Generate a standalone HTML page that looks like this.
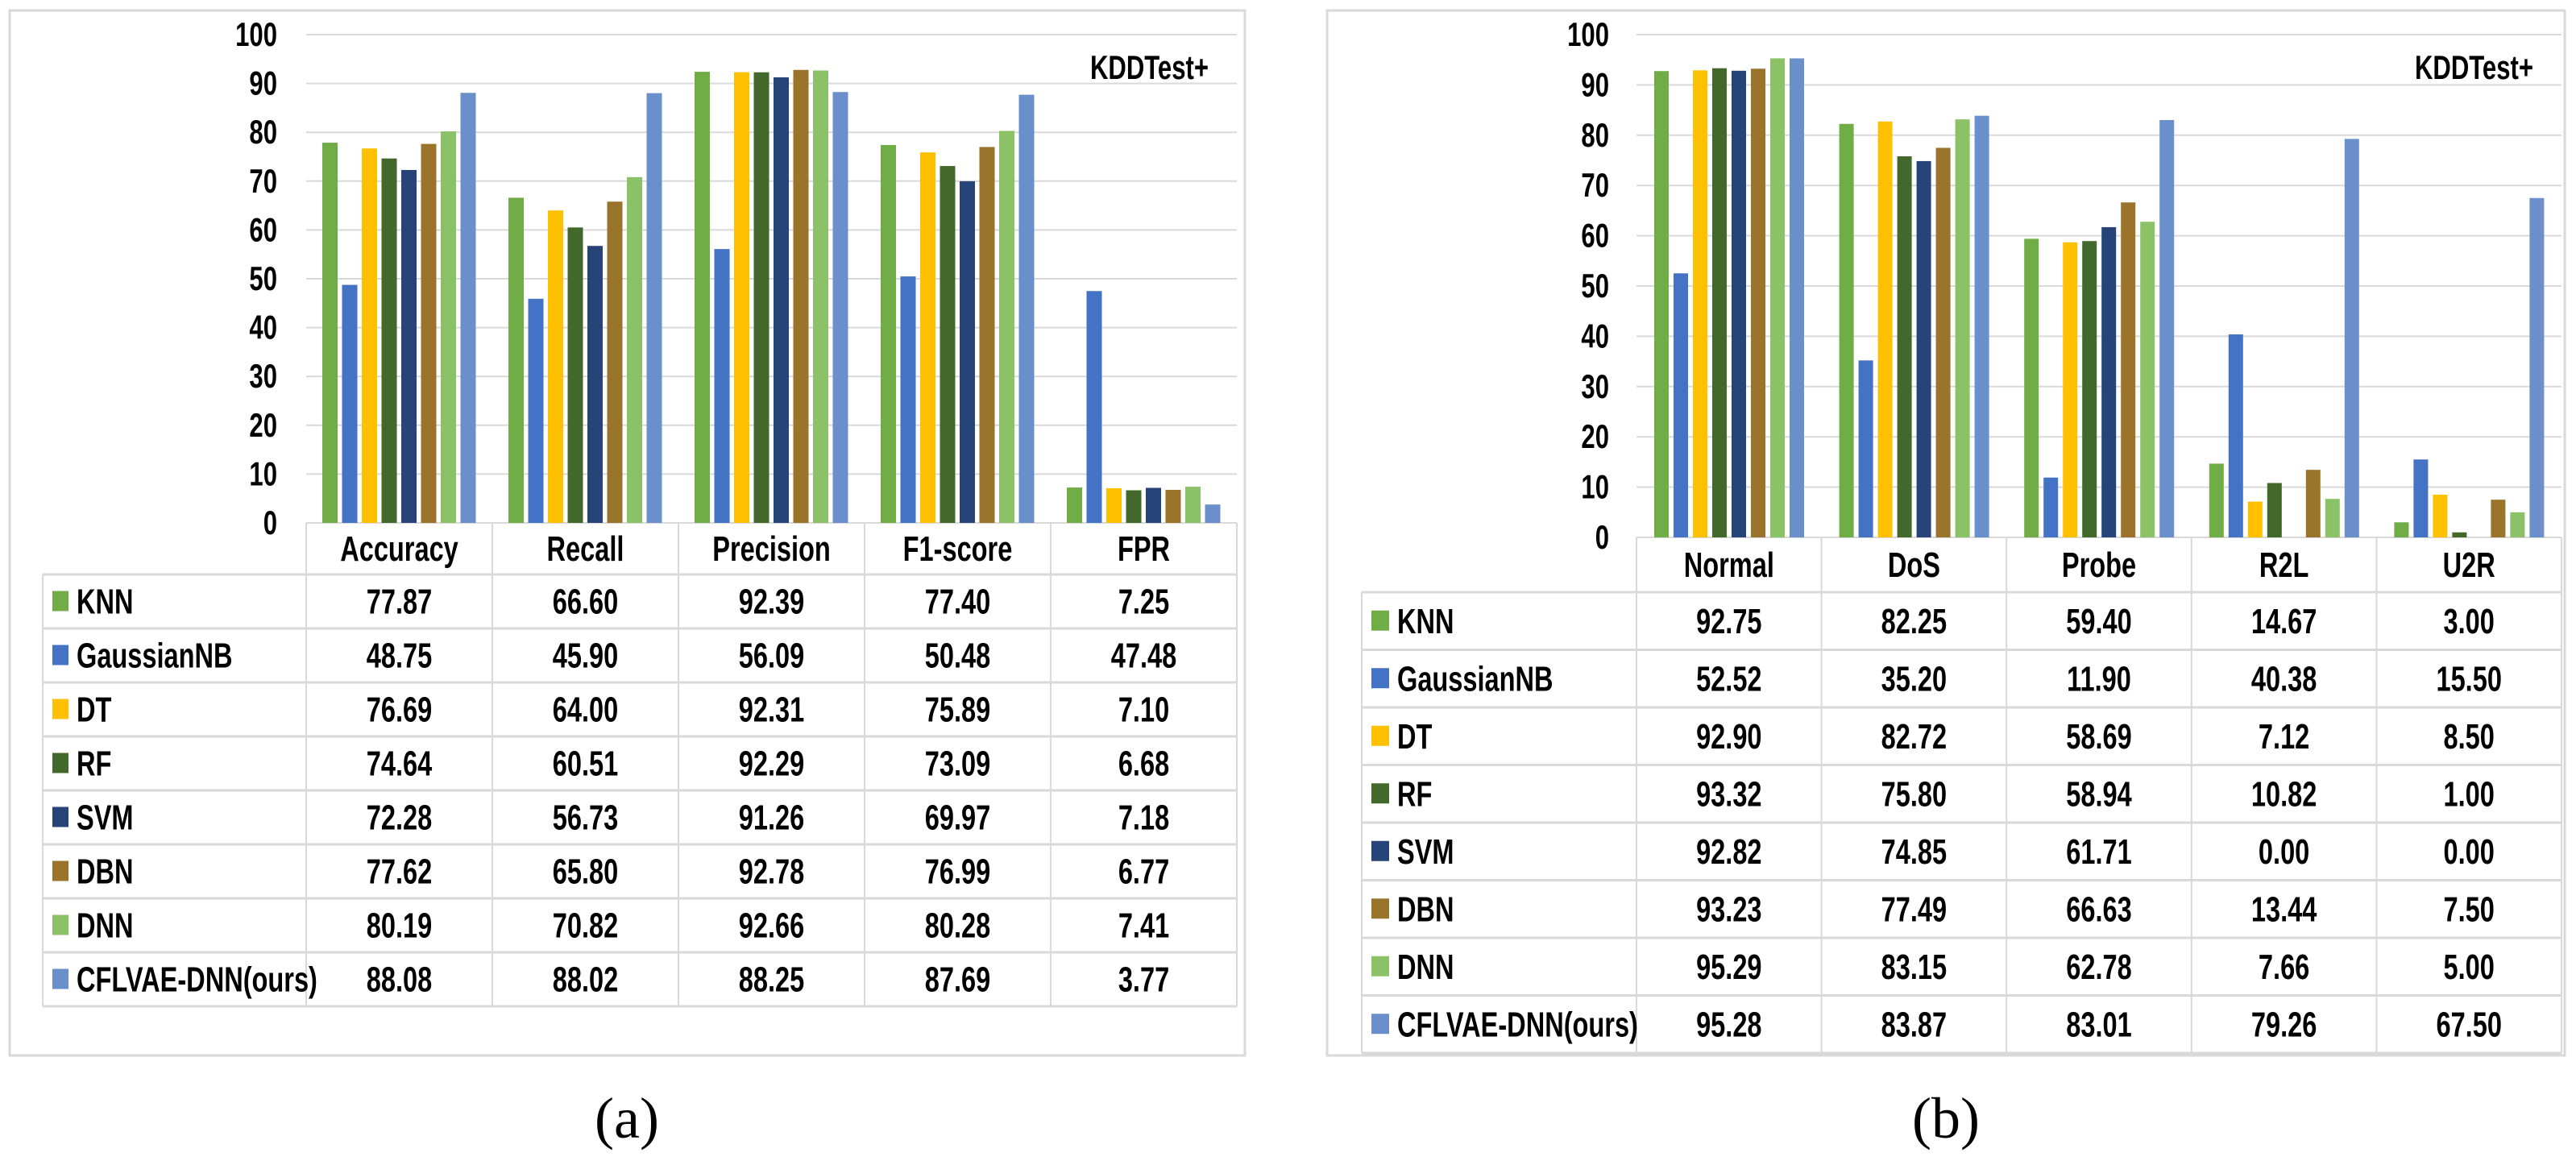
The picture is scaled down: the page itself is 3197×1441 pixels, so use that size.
<!DOCTYPE html>
<html><head><meta charset="utf-8">
<style>
html,body{margin:0;padding:0;background:#fff;}
svg{display:block;}
text{font-family:"Liberation Sans Narrow","Liberation Sans",sans-serif;font-weight:bold;fill:#000;}
.cap{font-family:"Liberation Serif",serif;font-weight:normal;}
</style></head>
<body>
<svg id="fig" width="3197" height="1441" viewBox="0 0 3197 1441" xmlns="http://www.w3.org/2000/svg"></svg>
<script>
// ---- data ----
const modelNames = ["KNN","GaussianNB","DT","RF","SVM","DBN","DNN","CFLVAE-DNN(ours)"];
const leftCategories = ["Accuracy","Recall","Precision","F1-score","FPR"];
const rightCategories = ["Normal","DoS","Probe","R2L","U2R"];
const yTicks = [0,10,20,30,40,50,60,70,80,90,100];
// left chart (a) series
const aKNN  = [77.87,66.60,92.39,77.40,7.25];
const aGNB  = [48.75,45.90,56.09,50.48,47.48];
const aDT   = [76.69,64.00,92.31,75.89,7.10];
const aRF   = [74.64,60.51,92.29,73.09,6.68];
const aSVM  = [72.28,56.73,91.26,69.97,7.18];
const aDBN  = [77.62,65.80,92.78,76.99,6.77];
const aDNN  = [80.19,70.82,92.66,80.28,7.41];
const aCFL  = [88.08,88.02,88.25,87.69,3.77];
// right chart (b) series
const bKNN  = [92.75,82.25,59.40,14.67,3.00];
const bGNB  = [52.52,35.20,11.90,40.38,15.50];
const bDT   = [92.90,82.72,58.69,7.12,8.50];
const bRF   = [93.32,75.80,58.94,10.82,1.00];
const bSVM  = [92.82,74.85,61.71,0.00,0.00];
const bDBN  = [93.23,77.49,66.63,13.44,7.50];
const bDNN  = [95.29,83.15,62.78,7.66,5.00];
const bCFL  = [95.28,83.87,83.01,79.26,67.50];

const seriesColors = ["#70ad47","#4472c4","#ffc000","#43682b","#264478","#9a742a","#8cc267","#6a8fcb"];
const NS = "http://www.w3.org/2000/svg";
const svg = document.getElementById("fig");
const SX = 0.74;

function mk(tag, attrs, parent, txt){
  const e = document.createElementNS(NS, tag);
  for (const k in attrs) e.setAttribute(k, attrs[k]);
  if (txt !== undefined) e.textContent = txt;
  (parent||svg).appendChild(e);
  return e;
}
function ntext(x, y, anchor, size, parent, txt){
  return mk("text", {x:0, y:0, "text-anchor":anchor, "font-size":size,
    transform:"translate(" + x + "," + y + ") scale(" + SX + ",1)"}, parent, txt);
}

function drawChart(g, series, cats, caption, capX) {
  const yScale = v => g.y0 - (g.y0 - g.y100) * v / 100;
  const xCol = i => g.px0 + g.colW * i;
  const pxR = g.px0 + g.colW * cats.length;
  const grp = mk("g", {}, svg);
  
  

  const frame = mk("rect", {x:g.fx0, y:g.fy0, width:g.fx1-g.fx0, height:g.fy1-g.fy0, fill:"#fff", stroke:"#d9d9d9", "stroke-width":3}, grp);
  
  

  yTicks.forEach(t => {
    const y = yScale(t);
    const gl = mk("line", {x1:g.px0, x2:pxR, y1:y, y2:y, stroke:"#d9d9d9", "stroke-width":2}, grp);
    
    
    const tl = ntext(g.labR, y+14, "end", 42, grp, String(t));
    
    
  });

  series.forEach((vals, s) => {
    vals.forEach((v, c) => {
      const x = xCol(c) + g.barOff + s * g.pitch;
      const y = yScale(v);
      const b = mk("rect", {x:x, y:y, width:g.barW, height:Math.max(0, g.y0 - y), fill:seriesColors[s]}, grp);
      
      
    });
  });

  const tb = g.hb + g.rowH * modelNames.length;
  for (let c = 0; c <= cats.length; c++) {
    const l = mk("line", {x1:xCol(c), x2:xCol(c), y1:g.y0, y2:tb, stroke:"#d9d9d9", "stroke-width":2}, grp);
    
    
  }
  const ll = mk("line", {x1:g.tl, x2:g.tl, y1:g.hb, y2:tb, stroke:"#d9d9d9", "stroke-width":2}, grp);
  
  
  for (let r = 0; r <= modelNames.length; r++) {
    const y = g.hb + g.rowH * r;
    const l = mk("line", {x1:g.tl, x2:pxR, y1:y, y2:y, stroke:"#d9d9d9", "stroke-width":3}, grp);
    
    
  }
  cats.forEach((c, i) => {
    const t = ntext(xCol(i)+g.colW/2, (g.y0+g.hb)/2+15, "middle", 44, grp, c);
    
    
  });
  modelNames.forEach((m, r) => {
    const cy = g.hb + g.rowH * (r + 0.5);
    const sw = mk("rect", {x:g.tl+12, y:cy-13, width:g.swW, height:25, fill:seriesColors[r]}, grp);
    
    
    const lt = ntext(g.tl+g.swW+22, cy+15, "start", 44, grp, m);
    
    
    series[r].forEach((v, c) => {
      const vt = ntext(xCol(c)+g.colW/2, cy+15, "middle", 44, grp, v.toFixed(2));
      
      
    });
  });

  const kt = ntext(pxR-35, 98, "end", 42, grp, "KDDTest+");
  
  

  const cap = mk("text", {x:capX, y:1412, "text-anchor":"middle", "font-size":72, "class":"cap"}, svg, caption);
  
  
}

drawChart({name:"chart-a", fx0:12, fy0:13, fx1:1545, fy1:1310, px0:380, colW:231, y0:649, y100:43,
  hb:713, rowH:67, tl:53, labR:344, barOff:20, pitch:24.5, barW:19, swW:20},
  [aKNN,aGNB,aDT,aRF,aSVM,aDBN,aDNN,aCFL], leftCategories, "(a)", 778);

drawChart({name:"chart-b", fx0:1647, fy0:13, fx1:3183, fy1:1310, px0:2031, colW:229.6, y0:667, y100:43,
  hb:735, rowH:71.5, tl:1690, labR:1997, barOff:22, pitch:24, barW:18, swW:22},
  [bKNN,bGNB,bDT,bRF,bSVM,bDBN,bDNN,bCFL], rightCategories, "(b)", 2415);
</script>
</body></html>
